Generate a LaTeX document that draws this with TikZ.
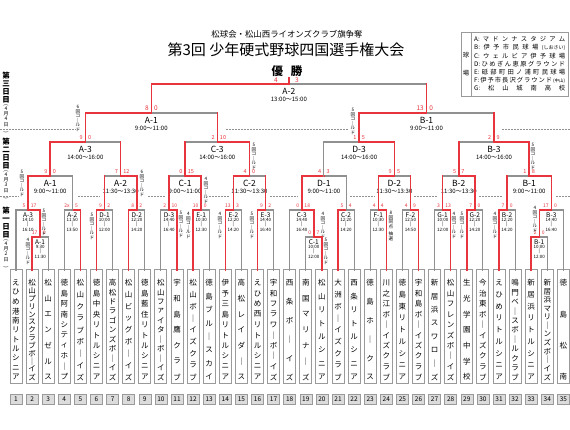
\documentclass[tikz,border=0pt]{standalone}
\usepackage{fontspec}
\usepackage{graphicx}
\setmainfont{Noto Sans CJK JP}
\usetikzlibrary{positioning}

\definecolor{wred}{HTML}{E8343C}
\definecolor{lgray}{HTML}{909090}
\definecolor{boxgray}{HTML}{9A9A9A}
\definecolor{numfill}{HTML}{DCDCDC}

\pgfdeclarelayer{front}
\pgfsetlayers{main,front}

\tikzset{
  ln/.style={draw=lgray, line width=1.1pt, line cap=rect},
  rd/.style={draw=wred, line width=1.5pt, line cap=rect},
  dayline/.style={draw=lgray, line width=0.5pt, dash pattern=on 1.5pt off 1.5pt},
  team/.style={draw=boxgray, line width=1pt, fill=white, minimum width=12pt, minimum height=113pt, inner sep=0pt},
  tchar/.style={font=\fontsize{7.5}{8}\selectfont, inner sep=0pt},
  numbox/.style={draw=boxgray, fill=numfill, line width=0.6pt, minimum width=12pt, minimum height=10pt, inner sep=0pt, font=\fontsize{6.5}{7}\selectfont},
  score/.style={text=wred, inner sep=0pt},
  tate/.style={align=center, inner sep=0pt, font=\fontsize{4.6}{4.6}\selectfont},
  mname/.style={inner sep=0pt, font=\fontsize{8.5}{9}\selectfont},
  mtime/.style={inner sep=0pt, font=\fontsize{6}{6}\selectfont},
  rname/.style={inner sep=0pt, font=\fontsize{6.5}{7}\selectfont},
  rtime/.style={align=center, inner sep=0pt, font=\fontsize{4.5}{4}\selectfont},
  legtext/.style={inner sep=0pt, font=\fontsize{6.3}{7}\selectfont},
  daybig/.style={align=center, inner sep=0pt, font=\bfseries\fontsize{7.5}{8}\selectfont},
  daysmall/.style={align=center, inner sep=0pt, font=\fontsize{5}{5.4}\selectfont},
}

% N回コールド, written top to bottom
\newcommand\called[1]{#1\\回\\コ\\｜\\ル\\ド}
% a date in brackets, written top to bottom
\newcommand\tatedate[1]{\rotatebox{-90}{(}\\4\\月\\#1\\日\\\rotatebox{-90}{)}}

% one team name, spread down the box
\newcommand\teamname[3]{%
  \foreach \c [count=\k] in #3 {\xdef\nch{\k}}%
  \foreach \c [count=\k] in #3 {
    \node[tchar] (t#1-\k) at (#2, {283+(\k-1)*94/(\nch-1)}) {\c};
  }%
}

% matches: left x / right x / top / left foot / right foot / left line / right line / winner x / scores
\newcommand\bracket[2]{%
  \foreach \l/\r/\t/\bl/\br/\cl/\cr/\w/\sl/\sr in #1 {
    \pgfmathsetmacro\m{(\l+\r)/2}
    \draw[ln] (\l,\t) -- (\r,\t);
    \begin{pgfonlayer}{front}
      \draw[\cl] (\l,\bl) -- (\l,\t);
      \draw[\cr] (\r,\br) -- (\r,\t);
      \draw[rd] (\w,\t) -- (\m,\t);
    \end{pgfonlayer}
    \node[score, font=#2, anchor=base east] at (\m-2.5,\t-2) {\sl};
    \node[score, font=#2, anchor=base west] at (\m+2.5,\t-2) {\sr};
  }%
}

% first day
\def\dayone{32.1/48.2/237/270/270/rd/ln/32.1/17/0,
  16/40.15/210/270/237/ln/rd/40.15/5/17,
  64.3/80.4/210/270/270/ln/rd/80.4/2x/5,
  96.5/112.6/210/270/270/rd/ln/96.5/9/2,
  128.7/144.8/210/270/270/rd/ln/128.7/8/2,
  160.9/177/210/270/270/ln/rd/177/2/10,
  193.1/209.2/210/270/270/rd/ln/193.1/10/0,
  225.3/241.4/210/270/270/rd/ln/225.3/13/3,
  257.5/273.6/210/270/270/rd/ln/257.5/9/2,
  305.8/321.9/237/270/270/ln/rd/321.9/0/7,
  289.7/313.85/210/270/237/ln/rd/313.85/0/18,
  338/354.1/210/270/270/rd/ln/338/5/4,
  370.2/386.3/210/270/270/ln/rd/386.3/4/4,
  402.4/418.5/210/270/270/ln/rd/418.5/4/9,
  434.6/450.7/210/270/270/ln/rd/450.7/3/13,
  466.8/482.9/210/270/270/rd/ln/466.8/7/0,
  499/515.1/210/270/270/rd/ln/499/7/0,
  531.2/547.3/237/270/270/rd/ln/531.2/2/0,
  539.25/563.4/210/237/270/rd/ln/539.25/17/0}

% second day
\def\daytwo{28.1/72.35/176/210/210/rd/ln/28.1/9/0,
  104.55/136.75/176/210/210/rd/rd/136.75/7/12,
  168.95/201.15/176/210/210/rd/rd/201.15/0/15,
  233.35/265.55/176/210/210/rd/rd/233.35/4/0,
  301.8/346.05/176/210/210/rd/ln/301.8/4/3,
  378.25/410.45/176/210/210/rd/rd/378.25/9/5,
  442.65/474.85/176/210/210/rd/rd/474.85/5/7,
  507.05/551.3/176/210/210/rd/rd/551.3/1/8,
  50.2/120.65/142/176/176/rd/rd/50.2/9/0,
  185.05/249.45/142/176/176/rd/rd/249.45/2/10,
  323.9/394.35/142/176/176/ln/rd/394.35/1/5,
  458.75/529.2/142/176/176/rd/rd/529.2/2/9}

% third day
\def\daythree{85.4/217.25/113/142/142/rd/rd/85.4/8/0,
  359.1/494/113/142/142/rd/rd/359.1/13/0}

\begin{document}
\begin{tikzpicture}[x=1pt, y=-1pt]
\useasboundingbox (0,0) rectangle (570,430);

% title
\node[font=\fontsize{8.4}{9}\selectfont] (subtitle) at (287,34) {松球会・松山西ライオンズクラブ旗争奪};
\node[font=\fontsize{15}{16}\selectfont] (title) at (286,50) {第3回 少年硬式野球四国選手権大会};
\node[font=\bfseries\fontsize{11.5}{12}\selectfont] (champ) at (287,71) {優\hspace{8pt}勝};

% grounds
\draw[draw=boxgray, line width=0.8pt] (461,32) rectangle (568,96);
\draw[draw=boxgray, line width=0.6pt] (471,32) -- (471,96);
\node[legtext] (ball) at (466,55) {球};
\node[legtext] (ground) at (466,73) {場};
\foreach \y/\txt [count=\k] in {39.5/{A: マ ド ン ナ ス タ ジ ア ム},
    47.6/{B: 伊 予 市 民 球 場 {\fontsize{5}{5}\selectfont (しおさい)}},
    55.7/{C: ウ ェ ル ビ ア 伊 予 球 場},
    63.8/{D: ひ め ぎ ん 恵 原 グ ラ ウ ン ド},
    71.9/{E: 砥 部 町 田 ノ 浦 町 民 球 場},
    80/{F: 伊 予 市 長 沢 グ ラ ウ ン ド {\fontsize{4.5}{5}\selectfont (中山)}},
    88.1/{G: 松 山 城 南 高 校}}
  \node[legtext, anchor=west] (park\k) at (474,\y) {\makebox[91pt][s]{\txt}};

% days
\node[daybig, anchor=north] (d3) at (6,72) {第\\三\\日\\目};
\node[daysmall, below=1pt of d3] (d3date) {\tatedate{4}};
\node[daybig, anchor=north] (d2) at (6,138) {第\\二\\日\\目};
\node[daysmall, below=1pt of d2] (d2date) {\tatedate{3}};
\node[daybig, anchor=north] (d1) at (6,207) {第\\一\\日\\目};
\node[daysmall, below=1pt of d1] (d1date) {\tatedate{2}};
\foreach \a/\b in {0/76, 226/348, 502/570}
  \draw[dayline] (\a,129) -- (\b,129);
\foreach \a/\b in {0/19, 78/100, 148/165, 209/230, 270/298, 350/375, 414/438, 479/503, 556/570}
  \draw[dayline] (\a,196) -- (\b,196);

% teams
\foreach \i/\nm [evaluate=\i as \x using 16+(\i-1)*16.1] in {
    1/{え,ひ,め,港,南,リ,ト,ル,シ,ニ,ア},
    2/{松,山,プ,リ,ン,ス,ク,ラ,ブ,ボ,｜,イ,ズ},
    3/{松,山,エ,ン,ゼ,ル,ス},
    4/{徳,島,阿,南,シ,テ,ィ,ホ,｜,プ},
    5/{松,山,ク,ラ,ブ,ボ,｜,イ,ズ},
    6/{徳,島,中,央,リ,ト,ル,シ,ニ,ア},
    7/{高,松,ド,ラ,ゴ,ン,ズ,ボ,｜,イ,ズ},
    8/{松,山,ビ,ッ,グ,ボ,｜,イ,ズ},
    9/{徳,島,藍,住,リ,ト,ル,シ,ニ,ア},
    10/{松,山,フ,ァ,イ,タ,｜,ボ,｜,イ,ズ},
    11/{宇,和,島,鷹,ク,ラ,ブ},
    12/{松,山,ボ,｜,イ,ズ,ク,ラ,ブ},
    13/{徳,島,ブ,ル,｜,ス,カ,イ},
    14/{伊,予,三,島,リ,ト,ル,シ,ニ,ア},
    15/{高,松,レ,イ,ダ,｜,ス},
    16/{え,ひ,め,西,リ,ト,ル,シ,ニ,ア},
    17/{宇,和,フ,ラ,ワ,｜,ボ,｜,イ,ズ},
    18/{西,条,ボ,｜,イ,ズ},
    19/{南,国,マ,リ,ナ,｜,ズ},
    20/{松,山,リ,ト,ル,シ,ニ,ア},
    21/{大,洲,ボ,｜,イ,ズ,ク,ラ,ブ},
    22/{西,条,リ,ト,ル,シ,ニ,ア},
    23/{徳,島,ホ,｜,ク,ス},
    24/{川,之,江,ボ,｜,イ,ズ,ク,ラ,ブ},
    25/{徳,島,東,リ,ト,ル,シ,ニ,ア},
    26/{宇,和,島,ボ,｜,イ,ズ,ク,ラ,ブ},
    27/{新,居,浜,ス,ワ,ロ,｜,ズ},
    28/{松,山,フ,レ,ン,ズ,ボ,｜,イ,ズ},
    29/{生,光,学,園,中,学,校},
    30/{今,治,東,ボ,｜,イ,ズ,ク,ラ,ブ},
    31/{え,ひ,め,リ,ト,ル,シ,ニ,ア},
    32/{鳴,門,ベ,｜,ス,ボ,｜,ル,ク,ラ,ブ},
    33/{新,居,浜,リ,ト,ル,シ,ニ,ア},
    34/{新,居,浜,マ,リ,｜,ン,ズ,ボ,｜,イ,ズ},
    35/{徳,島,松,南}} {
  \node[team] (team\i) at (\x,326.5) {};
  \teamname{\i}{\x}{\nm}
  \node[numbox] (no\i) at (\x,399) {\i};
}

% brackets
\bracket{\dayone}{\fontsize{5}{5}\selectfont}
\bracket{\daytwo}{\fontsize{5.5}{6}\selectfont}
\bracket{\daythree}{\fontsize{6.5}{7}\selectfont}

% final
\draw[ln] (151.3,84) -- (426.55,84);
\begin{pgfonlayer}{front}
  \draw[rd] (151.3,113) -- (151.3,84) -- (288.9,84) -- (288.9,78);
  \draw[rd] (426.55,113) -- (426.55,84);
\end{pgfonlayer}
\node[score, font=\fontsize{6.5}{7}\selectfont] (fin4) at (276,80) {4};
\node[score, font=\fontsize{6.5}{7}\selectfont] (fin3) at (297,80) {3};

% match names and times
\foreach \x/\y/\nm/\tm [count=\k] in {288.9/84/A-2/13:00〜15:00,
    151.3/113/A-1/9:00〜11:00, 426.55/113/B-1/9:00〜11:00,
    85.4/142/A-3/14:00〜16:00, 217.25/142/C-3/14:00〜16:00,
    359.1/142/D-3/14:00〜16:00, 494/142/B-3/14:00〜16:00,
    50.2/176/A-1/9:00〜11:00, 120.65/176/A-2/11:30〜13:30,
    185.05/176/C-1/9:00〜11:00, 249.45/176/C-2/11:30〜13:30,
    323.9/176/D-1/9:00〜11:00, 394.35/176/D-2/11:30〜13:30,
    458.75/176/B-2/11:30〜13:30, 529.2/176/B-1/9:00〜11:00} {
  \node[mname] (up\k) at (\x,\y+7.5) {\nm};
  \node[mtime] (uptime\k) at (\x,\y+15) {\tm};
}
\foreach \x/\y/\nm/\ta/\tb [count=\k] in {40.15/237/A-1/9:30/11:30,
    28.1/210/A-3/14:10/16:10, 72.35/210/A-2/11:50/13:50,
    104.55/210/D-1/10:00/12:00, 136.75/210/D-2/12:20/14:20,
    168.95/210/D-3/14:40/16:40, 201.15/210/E-1/10:30/12:30,
    233.35/210/E-2/12:20/14:20, 265.55/210/E-3/14:40/16:40,
    301.8/210/C-3/14:40/16:40, 313.85/237/C-1/10:00/12:00,
    346.05/210/C-2/12:20/14:20, 378.25/210/F-1/10:30/12:30,
    410.45/210/F-2/12:50/14:50, 442.65/210/G-1/10:00/12:00,
    474.85/210/G-2/12:20/14:20, 507.05/210/B-2/12:20/14:20,
    551.3/210/B-3/14:40/16:40, 539.25/237/B-1/10:00/12:00} {
  \node[rname] (low\k) at (\x,\y+5.5) {\nm};
  \node[rtime, anchor=north] (lowtime\k) at (\x,\y+8.5) {\ta\\|\\\tb};
}

% called games
\foreach \x/\y/\n [count=\k] in {78/105/6, 353/108/5, 254/143/5, 533/143/5,
    22/170/5, 142/170/6, 206/177/4,
    44/209/5, 28/238/4, 92/213/5, 181/211/5, 188.5/212/4, 220/212/4,
    252/212/5, 323/212/4, 326/238/5, 454/212/4, 462/212/5, 495/212/4, 535/206/4}
  \node[tate, anchor=north] (cg\k) at (\x,\y) {\called{\n}};
\node[tate, anchor=north] (lots) at (391,211) {8\\回\\同\\点\\[3pt]抽\\選};

\end{tikzpicture}
\end{document}
